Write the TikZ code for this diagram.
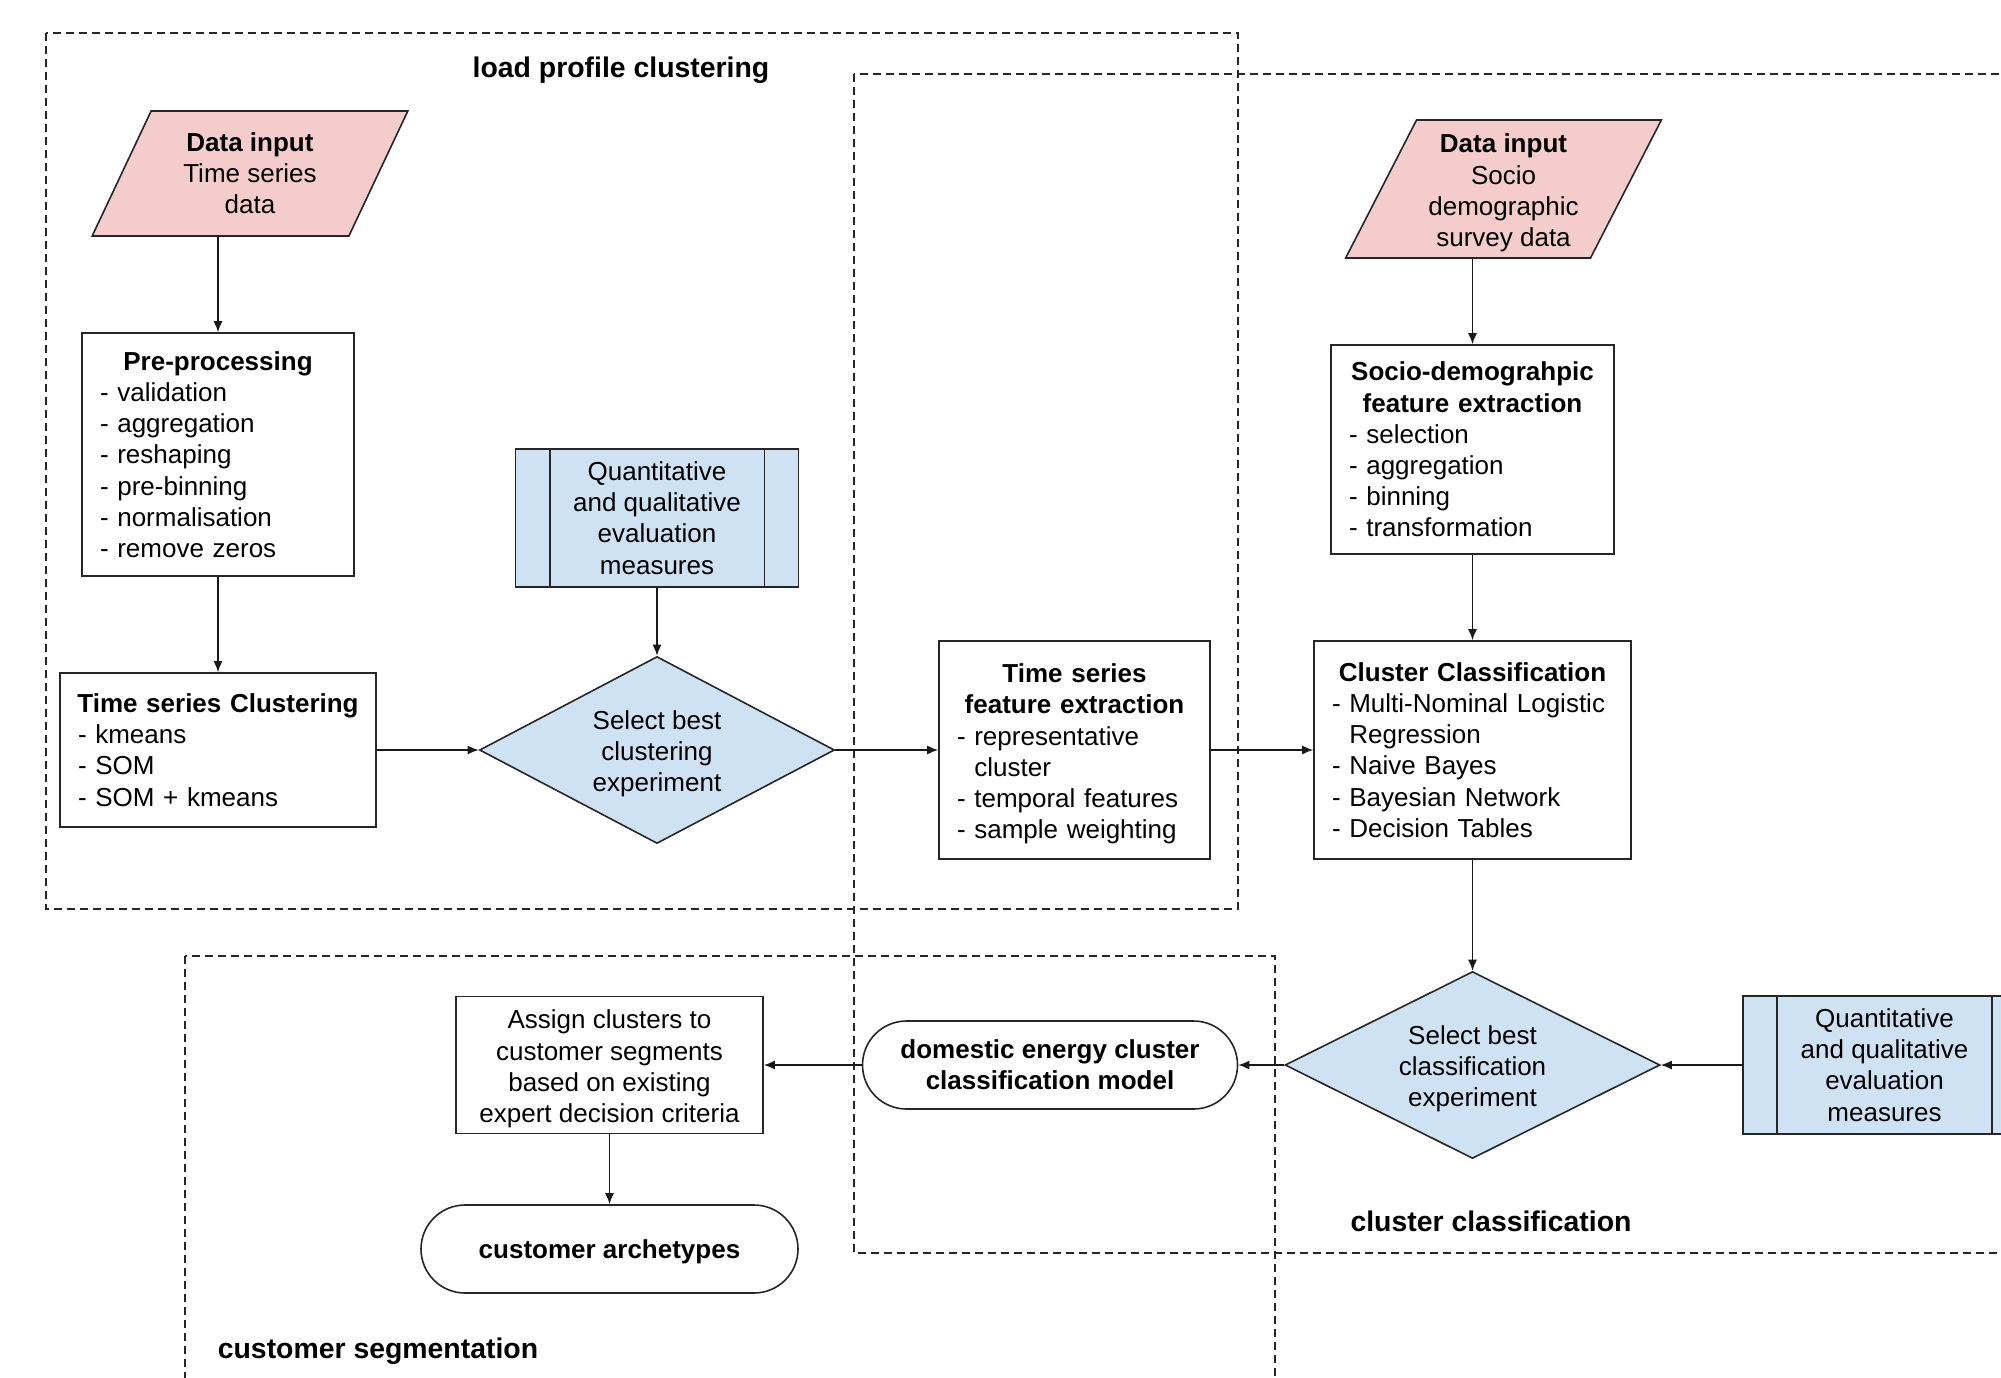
\documentclass[tikz,border=0pt]{standalone}
\usepackage{fontspec}
\setmainfont{Liberation Sans}
\usetikzlibrary{shapes.geometric,shapes.misc,arrows.meta,calc}
\definecolor{inpink}{HTML}{F4CCCC}
\definecolor{evblue}{HTML}{CFE2F3}
\newcommand{\lowA}{\rule{0pt}{13.3pt}}
\newcommand{\lowB}{\rule{0pt}{12.1pt}}
\begin{document}
\begin{tikzpicture}[x=0.5pt,y=-0.5pt,
  every node/.style={font=\fontsize{13}{15.6}\selectfont, text=black},
  frame/.style={draw=black!85, line width=0.7pt, dash pattern=on 4pt off 2.5pt},
  ftitle/.style={font=\fontsize{14.2}{17}\selectfont\bfseries},
  outl/.style={draw=black!85, line width=0.8pt},
  inputbox/.style={outl, fill=inpink, trapezium, trapezium left angle=64, trapezium right angle=116,
    trapezium stretches=true, minimum width=158pt, inner sep=0pt, align=center},
  listbox/.style={outl, fill=white, rectangle, align=left, inner xsep=9pt, inner ysep=0pt},
  evalbox/.style={outl, fill=evblue, rectangle, minimum width=141.5pt, minimum height=69pt, align=center, inner sep=0pt},
  choice/.style={outl, fill=evblue, diamond, aspect=1.9, inner sep=0pt, minimum height=93.5pt, align=center},
  plainbox/.style={outl, fill=white, rectangle, align=center, inner sep=0pt},
  term/.style={outl, fill=white, rounded rectangle, minimum width=187.5pt, minimum height=44pt, align=center, inner sep=0pt, font=\fontsize{13}{15.6}\selectfont\bfseries},
  arr/.style={draw=black!90, line width=0.7pt, -{Latex[length=5.5pt,width=4.5pt]}}
]
\clip (0,0) rectangle (2001,1377);
\fill[white] (0,0) rectangle (2001,1377);

% frames
\draw[frame] (46,33) rectangle (1238,909);
\draw[frame] (854,74) rectangle (2100,1253);
\draw[frame] (185,956) rectangle (1275,1440);
\node[ftitle] (t1) at (621,70.5) {load profile clustering};
\node[ftitle] (t2) at (1491,1221) {cluster classification};
\node[ftitle] (t3) at (378,1351.5) {customer segmentation};

% load profile clustering
\node[inputbox, minimum height=62.5pt] (di1) at (250,173.5) {\textbf{Data input}\\Time series\\data};
\node[listbox, text width=118pt, minimum height=121.5pt] (pre) at (218,454.5)
  {\makebox[\linewidth]{\bfseries Pre-processing}\\- validation\\- aggregation\\- reshaping\\- pre-binning\\- normalisation\\- remove zeros};
\node[listbox, text width=140pt, minimum height=77pt] (tsc) at (218,750)
  {\makebox[\linewidth]{\bfseries Time series Clustering}\\- kmeans\\- SOM\\- SOM + kmeans};
\node[evalbox] (q1) at (657,518) {Quantitative\\and qualitative\\evaluation\\measures};
\draw[outl] ([xshift=17.5pt]q1.north west) -- ([xshift=17.5pt]q1.south west);
\draw[outl] ([xshift=-17.5pt]q1.north east) -- ([xshift=-17.5pt]q1.south east);
\node[choice, minimum width=177.5pt] (sel1) at (657,750) {\lowA Select best\\clustering\\experiment};

% cluster classification
\node[listbox, text width=117.5pt, minimum height=109pt] (tsfe) at (1074.5,750)
  {\lowA\makebox[\linewidth]{\bfseries Time series}\\\makebox[\linewidth]{\bfseries feature extraction}\\- representative\\\phantom{- }cluster\\- temporal features\\- sample weighting};
\node[inputbox, minimum height=69pt] (di2) at (1503.5,189) {\lowA\textbf{Data input}\\Socio\\demographic\\survey data};
\node[listbox, text width=123.5pt, minimum height=104.5pt] (soc) at (1472.5,449.5)
  {\makebox[\linewidth]{\bfseries Socio-demograhpic}\\\makebox[\linewidth]{\bfseries feature extraction}\\- selection\\- aggregation\\- binning\\- transformation};
\node[listbox, text width=140.5pt, minimum height=109pt] (cc) at (1472.5,750)
  {\makebox[\linewidth]{\bfseries Cluster Classification}\\- Multi-Nominal Logistic\\\phantom{- }Regression\\- Naive Bayes\\- Bayesian Network\\- Decision Tables};
\node[choice, minimum width=187.5pt] (sel2) at (1472.5,1065) {\lowA Select best\\classification\\experiment};
\node[evalbox] (q2) at (1884.5,1065) {Quantitative\\and qualitative\\evaluation\\measures};
\draw[outl] ([xshift=17.5pt]q2.north west) -- ([xshift=17.5pt]q2.south west);
\draw[outl] ([xshift=-17.5pt]q2.north east) -- ([xshift=-17.5pt]q2.south east);
\node[term] (dom) at (1050,1065) {domestic energy cluster\\classification model};

% customer segmentation
\node[plainbox, minimum width=153.5pt, minimum height=68.5pt] (asg) at (609.5,1065) {\lowA Assign clusters to\\customer segments\\based on existing\\expert decision criteria};
\node[term, minimum width=188.5pt] (arch) at (609.5,1249) {\lowB customer archetypes};

% connectors
\draw[arr] (di1.south -| pre.north) -- (pre.north);
\draw[arr] (pre.south) -- (tsc.north);
\draw[arr] (tsc.east) -- (sel1.west);
\draw[arr] (q1.south) -- (sel1.north);
\draw[arr] (sel1.east) -- (tsfe.west);
\draw[arr] (tsfe.east) -- (cc.west);
\draw[arr] (di2.south -| soc.north) -- (soc.north);
\draw[arr] (soc.south) -- (cc.north);
\draw[arr] (cc.south) -- (sel2.north);
\draw[arr] (q2.west) -- (sel2.east);
\draw[arr] (sel2.west) -- (dom.east);
\draw[arr] (dom.west) -- (asg.east);
\draw[arr] (asg.south) -- (arch.north);
\end{tikzpicture}
\end{document}
